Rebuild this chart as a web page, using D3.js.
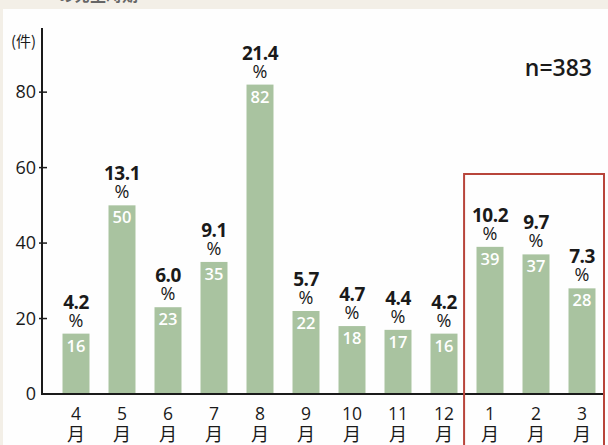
<!DOCTYPE html>
<html><head><meta charset="utf-8">
<script src="https://cdn.jsdelivr.net/npm/d3@7"></script>
<style>
html,body{margin:0;padding:0;background:#fff;}
svg{display:block;font-family:"Open Sans","Noto Sans CJK JP",sans-serif;}
</style></head>
<body>
<svg id="c" width="608" height="445"></svg>
<script>
const months = ["4","5","6","7","8","9","10","11","12","1","2","3"];
const counts = [16,50,23,35,82,22,18,17,16,39,37,28];
const percents = ["4.2","13.1","6.0","9.1","21.4","5.7","4.7","4.4","4.2","10.2","9.7","7.3"];
const yTicks = [0,20,40,60,80];
const highlighted = ["1","2","3"];
const totalLabel = "n=383";
const unitLabel = "(件)";
const monthSuffix = "月";

const svg = d3.select("#c");
// paper background strip
svg.append("rect").attr("x",0).attr("y",0).attr("width",608).attr("height",445).attr("fill","#f3efe7");
svg.append("rect").attr("x",3).attr("y",9).attr("width",605).attr("height",436).attr("fill","#fefefe");
// clipped title remnant (cut off at the top edge, as in the reference)
svg.append("text").attr("x",58).attr("y",1).attr("font-size",16).attr("font-weight",700)
  .attr("fill","#666").attr("font-family","Noto Sans CJK JP").text("の発生時期");

const x = d3.scaleBand().domain(months).range([53.3,604.7]).paddingInner(0.413).paddingOuter(0.2);
const y = d3.scaleLinear().domain([0,97]).range([394,28]);

// bars
svg.selectAll("rect.bar").data(months).join("rect").attr("class","bar")
  .attr("x",d=>x(d)).attr("width",x.bandwidth())
  .attr("y",(d,i)=>y(counts[i])).attr("height",(d,i)=>y(0)-y(counts[i]))
  .attr("fill","#a9c3a0");

// counts in bars
svg.selectAll("text.cnt").data(months).join("text").attr("class","cnt")
  .attr("x",d=>x(d)+x.bandwidth()/2).attr("y",(d,i)=>y(counts[i])+18)
  .attr("text-anchor","middle").attr("font-size",16.5).attr("font-weight",600)
  .attr("fill","#fff").text((d,i)=>counts[i]);

// percent labels
svg.selectAll("text.pct").data(months).join("text").attr("class","pct")
  .attr("x",d=>x(d)+x.bandwidth()/2).attr("y",(d,i)=>y(counts[i])-25)
  .attr("text-anchor","middle").attr("font-size",19).attr("font-weight",700)
  .attr("letter-spacing","-0.5").attr("fill","#1a1a1a").text((d,i)=>percents[i]);
svg.selectAll("text.pcts").data(months).join("text").attr("class","pcts")
  .attr("x",d=>x(d)+x.bandwidth()/2).attr("y",(d,i)=>y(counts[i])-7)
  .attr("text-anchor","middle").attr("font-size",18).attr("fill","#1a1a1a").text("%");

// y axis
const yAxis = d3.axisLeft(y).tickValues(yTicks).tickSize(0).tickPadding(6);
const gy = svg.append("g").attr("transform","translate(42,0)").call(yAxis);
gy.select(".domain").remove();
gy.selectAll("text").attr("font-size",18).attr("fill","#1a1a1a").attr("font-family","Open Sans");
svg.append("line").attr("x1",42).attr("x2",42).attr("y1",28).attr("y2",395).attr("stroke","#1a1a1a").attr("stroke-width",2);
svg.selectAll("line.tk").data(yTicks.filter(d=>d>0)).join("line").attr("class","tk")
  .attr("x1",39).attr("x2",47).attr("y1",d=>y(d)).attr("y2",d=>y(d)).attr("stroke","#1a1a1a").attr("stroke-width",1.5);
// baseline
svg.append("line").attr("x1",41).attr("x2",604).attr("y1",394).attr("y2",394).attr("stroke","#1a1a1a").attr("stroke-width",1.8);

// x labels
const gx = svg.append("g");
months.forEach(m=>{
  const cx = x(m)+x.bandwidth()/2;
  gx.append("text").attr("x",cx).attr("y",420).attr("text-anchor","middle").attr("font-size",17.5).attr("fill","#1a1a1a").text(m);
  gx.append("text").attr("x",cx).attr("y",441).attr("text-anchor","middle").attr("font-size",18)
    .attr("font-family","Noto Sans CJK JP").attr("fill","#1a1a1a").text(monthSuffix);
});

// highlight box
const hx0 = x(highlighted[0]) - x.step()*0.27;
svg.append("rect").attr("x",hx0).attr("y",174).attr("width",604-hx0).attr("height",300)
  .attr("fill","none").attr("stroke","#b8453b").attr("stroke-width",2);

// unit & n
svg.append("text").attr("x",11).attr("y",47).attr("font-size",15).attr("font-family","Noto Sans CJK JP").attr("fill","#1a1a1a").text(unitLabel);
svg.append("text").attr("x",592).attr("y",76).attr("text-anchor","end").attr("font-size",23).attr("font-weight",600).attr("fill","#1a1a1a").text(totalLabel);
</script>
</body></html>
